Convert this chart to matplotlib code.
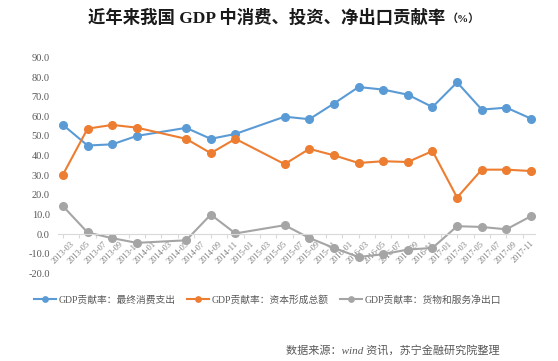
import matplotlib
matplotlib.use("Agg")
import matplotlib.pyplot as plt
from matplotlib.ticker import FormatStrFormatter

plt.rcParams['font.family'] = ['Liberation Serif', 'Noto Sans CJK SC']

# quarterly data (2014-03 and 2015-03 not reported)
quarters = ["2013-03", "2013-06", "2013-09", "2013-12", "2014-03", "2014-06", "2014-09", "2014-12",
            "2015-03", "2015-06", "2015-09", "2015-12", "2016-03", "2016-06", "2016-09", "2016-12",
            "2017-03", "2017-06", "2017-09", "2017-12"]
consumption = [55.6, 45.1, 45.7, 50.0, None, 54.1, 48.5, 51.0, None, 59.8,
               58.5, 66.5, 74.9, 73.6, 71.0, 64.7, 77.3, 63.4, 64.4, 58.8]
investment = [30.3, 53.7, 55.6, 54.2, None, 48.5, 41.2, 48.5, None, 35.6,
              43.4, 40.1, 36.2, 37.1, 36.7, 42.3, 18.6, 32.8, 32.8, 32.1]
net_export = [14.2, 0.8, -2.1, -4.5, None, -3.2, 9.9, 0.3, None, 4.5,
              -2.0, -7.1, -11.7, -10.3, -7.9, -7.1, 4.0, 3.6, 2.4, 9.1]

series_names = ["GDP贡献率：最终消费支出", "GDP贡献率：资本形成总额", "GDP贡献率：货物和服务净出口"]
colors = ["#5b9bd5", "#ed7d31", "#a5a5a5"]

tick_labels = ["%d-%02d" % (y, m) for y in range(2013, 2018) for m in range(1, 13, 2)
               if not (y == 2013 and m < 3)]


def month_pos(s):
    y, m = s.split("-")
    return (int(y) - 2013) * 12 + int(m) - 3


fig = plt.figure(figsize=(5.58, 3.61), dpi=100)
ax = fig.add_axes([0.104, 0.243, 0.855, 0.598])

for vals, name, c in zip([consumption, investment, net_export], series_names, colors):
    xs = [month_pos(q) for q, v in zip(quarters, vals) if v is not None]
    ys = [v for v in vals if v is not None]
    ax.plot(xs, ys, '-o', color=c, lw=1.5, ms=5.5, label=name)

ax.set_xlim(-0.6, 57.5)
ax.set_ylim(-20, 90)
ax.set_yticks(range(-20, 91, 10))
ax.yaxis.set_major_formatter(FormatStrFormatter('%.1f'))
for s in ['top', 'right', 'left']:
    ax.spines[s].set_visible(False)
ax.spines['bottom'].set_position(('data', 0))
ax.spines['bottom'].set_color('#d9d9d9')
ax.spines['bottom'].set_linewidth(0.8)
ax.set_xticks([month_pos(t) for t in tick_labels])
ax.set_xticklabels(tick_labels, rotation=45, ha='center', va='top', fontsize=6, color='#7f7f7f')
ax.tick_params(axis='x', length=3, color='#d9d9d9', pad=1)
ax.tick_params(axis='y', length=0, labelsize=7.5, labelcolor='#595959', pad=6)

fig.legend(loc='center', bbox_to_anchor=(0.48, 0.169), ncol=3, frameon=False,
           fontsize=7, labelcolor='#595959', handlelength=2.2, handletextpad=0.3,
           columnspacing=1.2, markerscale=0.7)

# title, with smaller unit suffix
t = fig.text(88 / 558, 1 - 18 / 361, "近年来我国 GDP 中消费、投资、净出口贡献率", fontsize=12.5,
             fontweight='bold', ha='left', va='center', color='#1a1a1a')
fig.canvas.draw()
bb = t.get_window_extent()
fig.text(bb.x1 / fig.bbox.width + 0.002, 1 - 19 / 361, "（%）", fontsize=8, fontweight='bold',
         ha='left', va='center', color='#1a1a1a')

fig.text(500 / 558, 1 - 350 / 361, "数据来源：wind 资讯，苏宁金融研究院整理", fontsize=8,
         style='italic', ha='right', va='center', color='#595959')

fig.savefig("out.png", dpi=100, facecolor='white')
